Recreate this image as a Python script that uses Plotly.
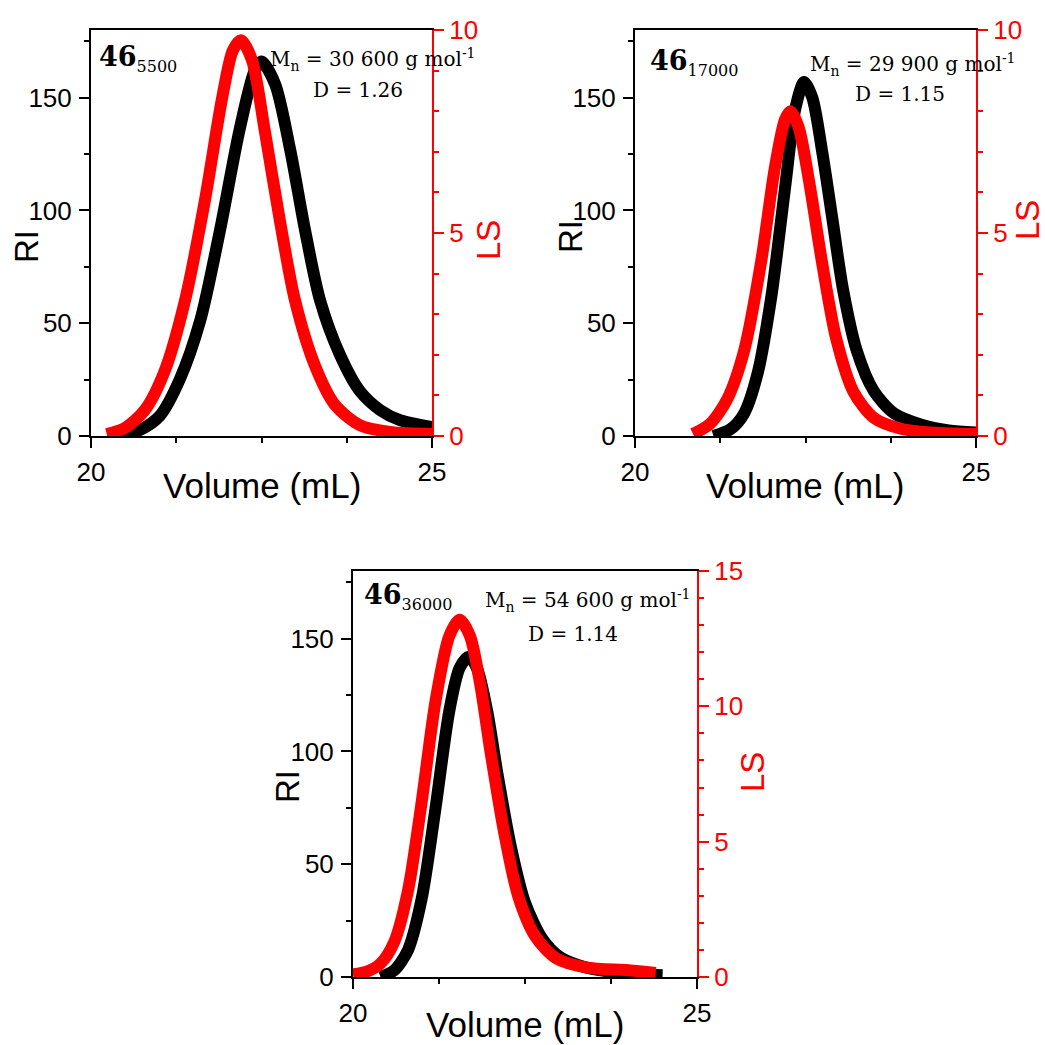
import plotly.graph_objects as go

W = H = 1045

# ---- sample 46_5500 ----
vol_ri_a = [20.43, 20.72, 21.01, 21.30, 21.60, 21.89, 22.18, 22.40, 22.50, 22.70, 22.92, 23.14, 23.36, 23.65, 23.94, 24.24, 24.53, 25.00]
ri_a = [0, 2.7, 9, 25, 51, 91, 136, 162, 166, 156, 127, 91, 60, 36, 20, 11.5, 7, 4]
vol_ls_a = [20.23, 20.50, 20.79, 21.08, 21.38, 21.67, 21.92, 22.08, 22.20, 22.36, 22.55, 22.77, 22.99, 23.28, 23.58, 23.94, 24.38, 25.00]
ls_a = [0.05, 0.2, 0.64, 1.6, 3.35, 5.8, 8.3, 9.5, 9.75, 9.26, 7.5, 5.3, 3.35, 1.75, 0.76, 0.27, 0.1, 0.05]

# ---- sample 46_17000 ----
vol_ri_b = [21.15, 21.40, 21.60, 21.80, 22.00, 22.20, 22.35, 22.48, 22.60, 22.75, 22.90, 23.05, 23.25, 23.50, 23.80, 24.20, 24.60, 25.00]
ri_b = [0, 3, 10, 28, 62, 110, 145, 157, 150, 125, 95, 65, 38, 20, 10, 5, 2.5, 1.5]
vol_ls_b = [20.85, 21.10, 21.35, 21.60, 21.85, 22.05, 22.20, 22.28, 22.40, 22.55, 22.75, 22.95, 23.20, 23.50, 23.90, 24.40, 25.00]
ls_b = [0.05, 0.3, 0.9, 2.1, 4.3, 6.6, 7.8, 8.0, 7.6, 6.3, 4.2, 2.4, 1.1, 0.45, 0.18, 0.08, 0.05]

# ---- sample 46_36000 ----
vol_ri_c = [20.40, 20.60, 20.80, 21.00, 21.20, 21.40, 21.55, 21.68, 21.80, 21.95, 22.10, 22.30, 22.50, 22.75, 23.00, 23.30, 23.70, 24.20, 24.50]
ri_c = [0, 3, 12, 35, 75, 118, 137, 142, 137, 118, 90, 57, 33, 17, 9, 5, 2.5, 1.2, 0.8]
vol_ls_c = [20.00, 20.20, 20.40, 20.60, 20.80, 21.00, 21.20, 21.40, 21.55, 21.70, 21.85, 22.00, 22.20, 22.40, 22.65, 22.95, 23.40, 24.00, 24.40]
ls_c = [0.1, 0.2, 0.5, 1.3, 3.2, 6.5, 10.2, 12.6, 13.2, 12.6, 10.8, 8.3, 5.3, 3.0, 1.5, 0.7, 0.35, 0.25, 0.15]

sample_labels = ["5500", "17000", "36000"]
mn_labels = ["30 600", "29 900", "54 600"]
dispersity = ["1.26", "1.15", "1.14"]
ls_max = [10, 10, 15]

# panel boxes in pixels: (left, right, top, bottom)
boxes = [(91, 432, 30, 436), (635, 976, 30, 436), (353, 697, 571, 977)]


def px_x(p):
    return p / W


def px_y(p):
    return 1 - p / H


RED = "#ff0000"
SANS = "Liberation Sans, Arial, sans-serif"
SERIF = "DejaVu Serif, serif"

fig = go.Figure()
data = [(vol_ri_a, ri_a, vol_ls_a, ls_a), (vol_ri_b, ri_b, vol_ls_b, ls_b), (vol_ri_c, ri_c, vol_ls_c, ls_c)]

layout = dict(
    width=W, height=H, margin=dict(l=0, r=0, t=0, b=0, autoexpand=False),
    paper_bgcolor="white", plot_bgcolor="white", showlegend=False,
)

for i, (vx, ri, vl, ls) in enumerate(data):
    n = i + 1
    xa = "x" if n == 1 else f"x{n}"
    ya_ri = "y" if n == 1 else f"y{2 * n - 1}"
    ya_ls = f"y{2 * n}"
    fig.add_trace(go.Scatter(x=vx, y=ri, mode="lines", xaxis=xa, yaxis=ya_ri, cliponaxis=True,
                             line=dict(color="black", width=12, shape="spline", smoothing=0.8)))
    fig.add_trace(go.Scatter(x=vl, y=ls, mode="lines", xaxis=xa, yaxis=ya_ls, cliponaxis=True,
                             line=dict(color=RED, width=12, shape="spline", smoothing=0.8)))

    l, r, t, b = boxes[i]
    xkey = "xaxis" if n == 1 else f"xaxis{n}"
    yrikey = "yaxis" if n == 1 else f"yaxis{2 * n - 1}"
    ylskey = f"yaxis{2 * n}"
    layout[xkey] = dict(
        domain=[px_x(l), px_x(r)], anchor=ya_ri, range=[20, 25], automargin=False,
        tickvals=[20, 25], ticks="outside", ticklen=10, tickwidth=2, tickcolor="black",
        minor=dict(tick0=20, dtick=1.25, ticks="outside", ticklen=5, tickwidth=2, tickcolor="black"),
        showline=True, linecolor="black", linewidth=2, mirror=True,
        showgrid=False, zeroline=False, ticklabelstandoff=2,
        tickfont=dict(family=SANS, size=26, color="black"),
    )
    layout[yrikey] = dict(
        domain=[px_y(b), px_y(t)], anchor=xa, range=[0, 180], automargin=False,
        tickvals=[0, 50, 100, 150], ticks="outside", ticklen=10, tickwidth=2, tickcolor="black",
        minor=dict(tick0=0, dtick=25, ticks="outside", ticklen=5, tickwidth=2, tickcolor="black"),
        showline=True, linecolor="black", linewidth=2,
        showgrid=False, zeroline=False, ticklabelstandoff=2,
        tickfont=dict(family=SANS, size=26, color="black"),
    )
    layout[ylskey] = dict(
        overlaying=ya_ri, anchor=xa, side="right", range=[0, ls_max[i]], automargin=False,
        dtick=5, tick0=0, ticks="outside", ticklen=10, tickwidth=2, tickcolor=RED,
        minor=dict(tick0=0, dtick=1, ticks="outside", ticklen=5, tickwidth=2, tickcolor=RED),
        showline=True, linecolor=RED, linewidth=2,
        showgrid=False, zeroline=False, ticklabelstandoff=0,
        tickfont=dict(family=SANS, size=26, color=RED),
    )

fig.update_layout(**layout)

# axis titles, placed beside each panel
axis_titles = [
    dict(vol=(262, 485), ri=(27, 247), ls=(489, 240)),
    dict(vol=(805, 485), ri=(570, 237), ls=(1027, 220)),
    dict(vol=(525, 1024), ri=(287, 787), ls=(752, 772)),
]
for pos in axis_titles:
    vx_, vy_ = pos["vol"]
    fig.add_annotation(x=px_x(vx_), y=px_y(vy_), xref="paper", yref="paper", showarrow=False,
                       xanchor="center", yanchor="middle", text="Volume (mL)",
                       font=dict(family=SANS, size=35, color="black"))
    rx, ry = pos["ri"]
    fig.add_annotation(x=px_x(rx), y=px_y(ry), xref="paper", yref="paper", showarrow=False,
                       xanchor="center", yanchor="middle", text="RI", textangle=-90,
                       font=dict(family=SANS, size=33, color="black"))
    lx, ly = pos["ls"]
    fig.add_annotation(x=px_x(lx), y=px_y(ly), xref="paper", yref="paper", showarrow=False,
                       xanchor="center", yanchor="middle", text="LS", textangle=-90,
                       font=dict(family=SANS, size=33, color=RED))

# sample names and molar-mass annotations
label_pos = [
    dict(name=(97, 58), mn=(268, 60), d=(358, 90)),
    dict(name=(648, 62), mn=(808, 64), d=(900, 94)),
    dict(name=(362, 596), mn=(483, 600), d=(573, 634)),
]
for i, pos in enumerate(label_pos):
    nx, ny = pos["name"]
    fig.add_annotation(
        x=px_x(nx), y=px_y(ny), xref="paper", yref="paper", xanchor="left", yanchor="middle",
        text=f"<b>46</b><sub><span style='font-size:16px'>{sample_labels[i]}</span></sub>",
        showarrow=False, font=dict(family=SERIF, size=27, color="black"),
    )
    mx, my = pos["mn"]
    fig.add_annotation(
        x=px_x(mx), y=px_y(my), xref="paper", yref="paper", xanchor="left", yanchor="middle",
        text=f"M<sub>n</sub> = {mn_labels[i]} g mol<sup>-1</sup>", showarrow=False,
        font=dict(family=SERIF, size=20, color="black"),
    )
    dx, dy = pos["d"]
    fig.add_annotation(
        x=px_x(dx), y=px_y(dy), xref="paper", yref="paper", xanchor="center", yanchor="middle",
        text=f"D = {dispersity[i]}", showarrow=False,
        font=dict(family=SERIF, size=20, color="black"),
    )

fig.write_html("out.html")
